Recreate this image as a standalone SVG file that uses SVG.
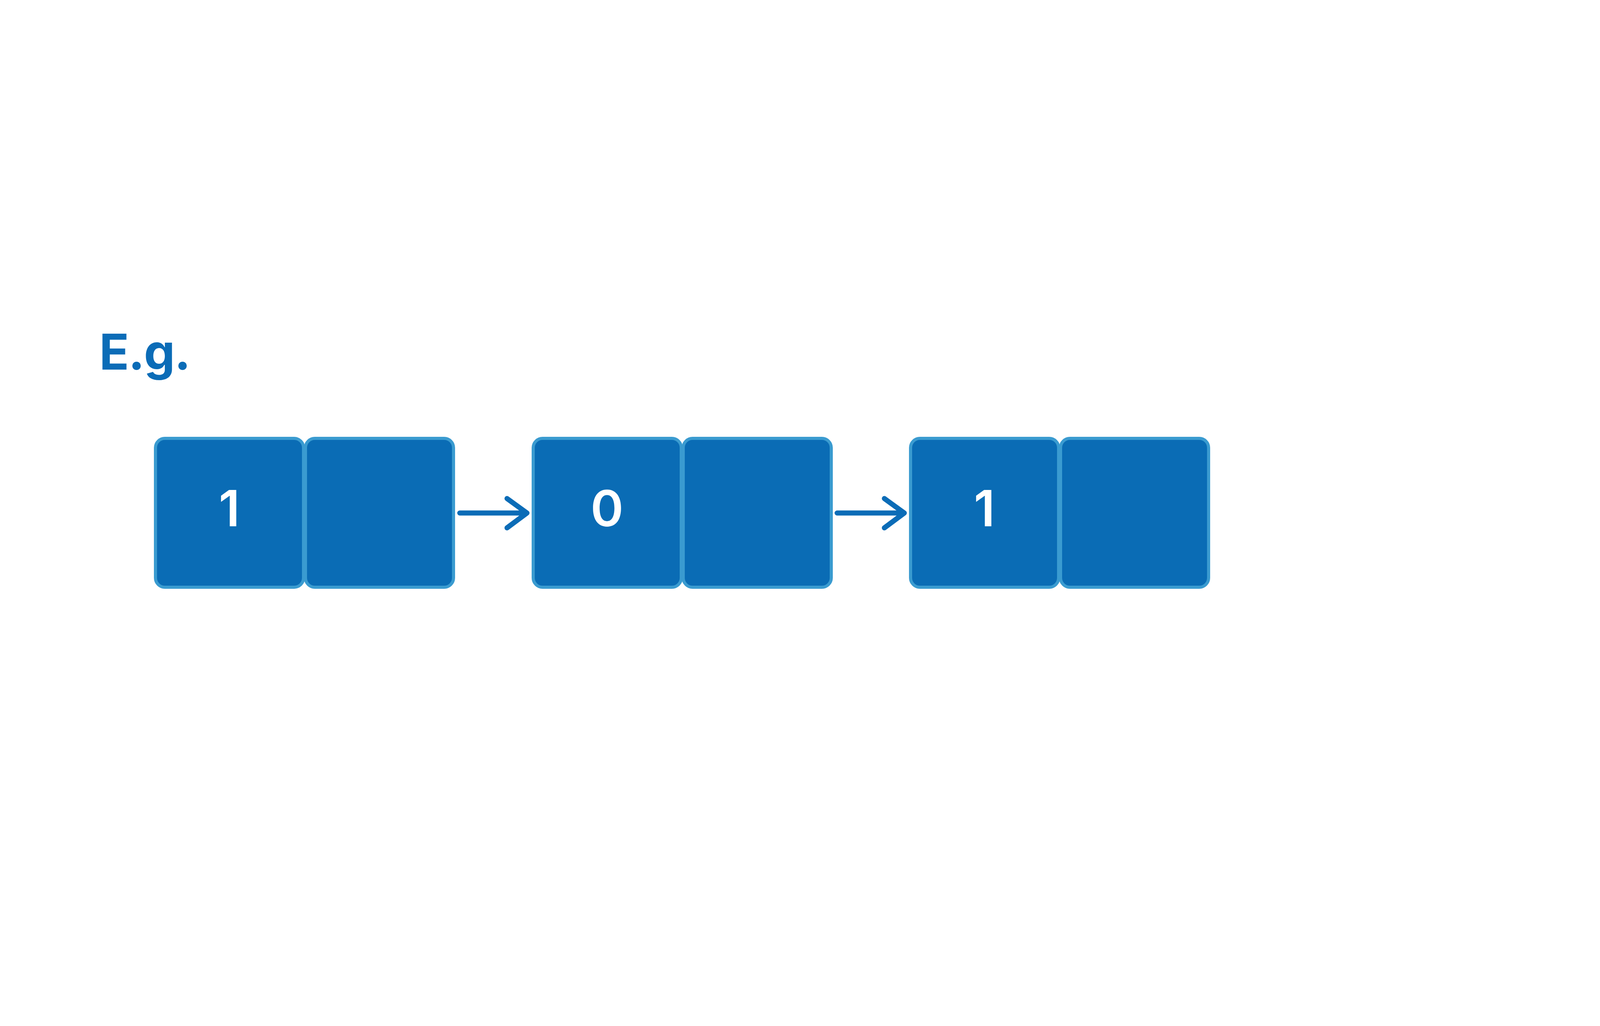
<svg xmlns="http://www.w3.org/2000/svg" width="5000" height="2626" viewBox="0 0 5000 2626">
  <style>
    .cell { fill: #0a6cb5; stroke: #3a9bd0; stroke-width: 8; }
    .val { font-family: Inter, Roboto, "Liberation Sans", sans-serif; font-weight: 600; font-size: 128px; fill: #ffffff; text-anchor: middle; }
    .title { font-family: Inter, Roboto, "Liberation Sans", sans-serif; font-weight: bold; font-size: 126px; fill: #0b6cb7; }
    .arrow { fill: none; stroke: #0b6cb7; stroke-width: 13; stroke-linecap: round; stroke-linejoin: round; }
  </style>
  <rect width="5000" height="2626" fill="#ffffff"/>
  <text id="title" class="title" x="254" y="946" letter-spacing="-2">E.g.</text>

  <g id="node1">
    <rect class="cell" x="398" y="1122" width="379" height="381" rx="24" ry="24"/>
    <rect class="cell" x="782" y="1122" width="379" height="381" rx="24" ry="24"/>
    <text class="val" x="587" y="1347">1</text>
  </g>
  <g id="node2">
    <rect class="cell" x="1365" y="1122" width="379" height="381" rx="24" ry="24"/>
    <rect class="cell" x="1749" y="1122" width="379" height="381" rx="24" ry="24"/>
    <text class="val" x="1554" y="1347">0</text>
  </g>
  <g id="node3">
    <rect class="cell" x="2331" y="1122" width="379" height="381" rx="24" ry="24"/>
    <rect class="cell" x="2715" y="1122" width="379" height="381" rx="24" ry="24"/>
    <text class="val" x="2520" y="1347">1</text>
  </g>

  <g id="connectors">
    <path class="arrow" d="M1177 1313 H1349 M1298 1276 L1349 1313 L1298 1351"/>
    <path class="arrow" d="M2143 1313 H2315 M2264 1276 L2315 1313 L2264 1351"/>
  </g>
</svg>
